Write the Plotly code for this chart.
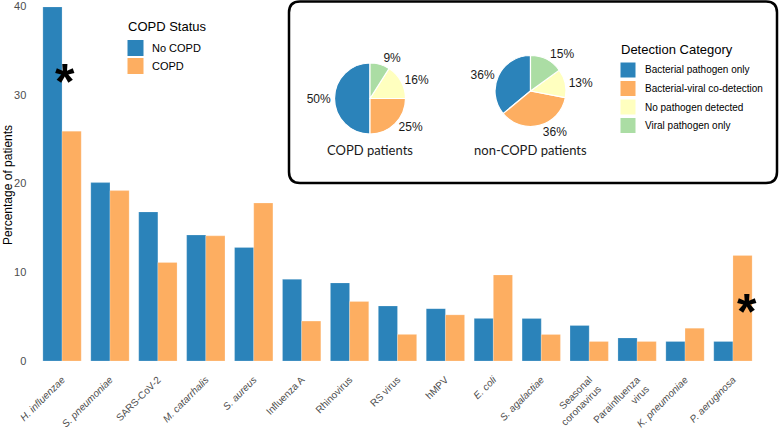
import plotly.graph_objects as go

W, H = 779, 428

# ---- data ----
pathogens = ["<i>H. influenzae</i>", "<i>S. pneumoniae</i>", "SARS-CoV-2", "<i>M. catarrhalis</i>",
             "<i>S. aureus</i>", "Influenza A", "Rhinovirus", "RS virus", "hMPV", "<i>E. coli</i>",
             "<i>S. agalactiae</i>", "Seasonal<br>coronavirus", "Parainfluenza<br>virus",
             "<i>K. pneumoniae</i>", "<i>P. aeruginosa</i>"]
no_copd = [39.9, 20.1, 16.8, 14.2, 12.8, 9.2, 8.8, 6.2, 5.9, 4.8, 4.8, 4.0, 2.6, 2.2, 2.2]
copd = [25.9, 19.2, 11.1, 14.1, 17.8, 4.5, 6.7, 3.0, 5.2, 9.7, 3.0, 2.2, 2.2, 3.7, 11.9]
status_names = ["No COPD", "COPD"]

det_categories = ["Bacterial pathogen only", "Bacterial-viral co-detection",
                  "No pathogen detected", "Viral pathogen only"]
pie_copd = [50, 25, 16, 9]
pie_noncopd = [36, 36, 13, 15]

signif_idx = [0, 14]
signif_y = [32.6, 6.6]

BLUE, ORANGE, YELLOW, GREEN = "#2B83BA", "#FDAE61", "#FFFFBF", "#ABDDA4"
det_colors = [BLUE, ORANGE, YELLOW, GREEN]

FONT = "Liberation Sans, Arial, sans-serif"

def px_x(p):
    return p / W

def px_y(p):
    return 1 - p / H

fig = go.Figure()
fig.add_trace(go.Bar(x=pathogens, y=no_copd, name=status_names[0], marker_color=BLUE,
                     marker_line=dict(color="rgba(255,255,255,0.35)", width=0.6), showlegend=False))
fig.add_trace(go.Bar(x=pathogens, y=copd, name=status_names[1], marker_color=ORANGE,
                     marker_line=dict(color="rgba(255,255,255,0.35)", width=0.6), showlegend=False))

# pies
def pie_domain(cx, cy, r):
    return dict(x=[px_x(cx - r), px_x(cx + r)], y=[px_y(cy + r), px_y(cy - r)])

for vals, (cx, cy) in [(pie_copd, (370, 98.5)), (pie_noncopd, (530.5, 91))]:
    # plotly places the first counterclockwise slice ending at `rotation`; shift so it starts at 12 o'clock
    rot = -360.0 * vals[0] / sum(vals)
    fig.add_trace(go.Pie(values=vals, labels=det_categories, sort=False, direction="counterclockwise",
                         rotation=rot, marker=dict(colors=det_colors, line=dict(color="white", width=1.2)),
                         texttemplate="%{value}%", textposition="outside",
                         textfont=dict(family=FONT, size=12, color="#1a1a1a"),
                         domain=pie_domain(cx, cy, 35.5), showlegend=False, hoverinfo="skip"))

y_lo, y_hi = -3 / 8.875, 361 / 8.875
fig.update_layout(
    width=W, height=H, margin=dict(l=0, r=0, t=0, b=0),
    paper_bgcolor="white", plot_bgcolor="white",
    barmode="group", bargap=0.2, bargroupgap=0,
    font=dict(family=FONT),
    xaxis=dict(domain=[px_x(33.3), px_x(761.7)], range=[-0.6, 14.6], showgrid=False, zeroline=False,
               showline=False, ticks="", tickangle=-45, automargin=False, ticklabelstandoff=7,
               ticklabeloverflow="allow",
               tickfont=dict(size=10, color="#4d4d4d", family=FONT)),
    yaxis=dict(domain=[px_y(364), 1], range=[y_lo, y_hi], showgrid=False, zeroline=False,
               showline=False, ticks="", tickvals=[0, 10, 20, 30, 40], automargin=False,
               ticklabeloverflow="allow", ticklabelstandoff=6,
               tickfont=dict(size=11, color="#4d4d4d", family=FONT)),
)

# significance asterisks
for i, yv in zip(signif_idx, signif_y):
    fig.add_annotation(x=i, y=yv, xref="x", yref="y", text="<b>*</b>", showarrow=False,
                       font=dict(size=50, color="black", family=FONT), xshift=3 if i == 0 else 14,
                       xanchor="center", yanchor="middle", yshift=-10)

# y-axis title
fig.add_annotation(x=px_x(8), y=px_y(185), xref="paper", yref="paper", text="Percentage of patients",
                   textangle=-90, showarrow=False, xanchor="center", yanchor="middle",
                   font=dict(size=12, color="black", family=FONT))

# inset box with rounded corners
x0, x1, y0, y1 = 289, 777, 1.5, 183
r = 11
rx, ry = r / W, r / H
X0, X1, Y0, Y1 = px_x(x0), px_x(x1), px_y(y1), px_y(y0)
path = (f"M {X0+rx},{Y1} L {X1-rx},{Y1} Q {X1},{Y1} {X1},{Y1-ry} L {X1},{Y0+ry} "
        f"Q {X1},{Y0} {X1-rx},{Y0} L {X0+rx},{Y0} Q {X0},{Y0} {X0},{Y0+ry} L {X0},{Y1-ry} "
        f"Q {X0},{Y1} {X0+rx},{Y1} Z")
fig.add_shape(type="path", path=path, xref="paper", yref="paper", line=dict(color="black", width=2.5),
              fillcolor="rgba(0,0,0,0)", layer="above")

# pie captions
for txt, cx, cy in [("COPD patients", 370, 150), ("non-COPD patients", 530.5, 150)]:
    fig.add_annotation(x=px_x(cx), y=px_y(cy), xref="paper", yref="paper", text=txt, showarrow=False,
                       xanchor="center", yanchor="middle",
                       font=dict(size=13, color="#1a1a1a", family="Lato, Carlito, sans-serif"))

# COPD Status legend
fig.add_annotation(x=px_x(126), y=px_y(27), xref="paper", yref="paper", text="COPD Status", showarrow=False,
                   xanchor="left", yanchor="middle", font=dict(size=13, color="black", family=FONT))
for k, (name, col) in enumerate(zip(status_names, [BLUE, ORANGE])):
    top = 39.5 + k * 18
    fig.add_shape(type="rect", xref="paper", yref="paper", x0=px_x(127), x1=px_x(144),
                  y0=px_y(top + 17), y1=px_y(top), fillcolor=col, line=dict(color="white", width=1))
    fig.add_annotation(x=px_x(150), y=px_y(top + 8.5), xref="paper", yref="paper", text=name,
                       showarrow=False, xanchor="left", yanchor="middle",
                       font=dict(size=11, color="black", family=FONT))

# Detection Category legend
fig.add_annotation(x=px_x(619), y=px_y(49), xref="paper", yref="paper", text="Detection Category",
                   showarrow=False, xanchor="left", yanchor="middle",
                   font=dict(size=13, color="black", family=FONT))
for k, (name, col) in enumerate(zip(det_categories, det_colors)):
    top = 62 + k * 18.5
    fig.add_shape(type="rect", xref="paper", yref="paper", x0=px_x(620), x1=px_x(636),
                  y0=px_y(top + 16), y1=px_y(top), fillcolor=col, line=dict(color="white", width=1))
    fig.add_annotation(x=px_x(643), y=px_y(top + 8), xref="paper", yref="paper", text=name,
                       showarrow=False, xanchor="left", yanchor="middle",
                       font=dict(size=10, color="black", family=FONT))

fig.write_html("out.html")
